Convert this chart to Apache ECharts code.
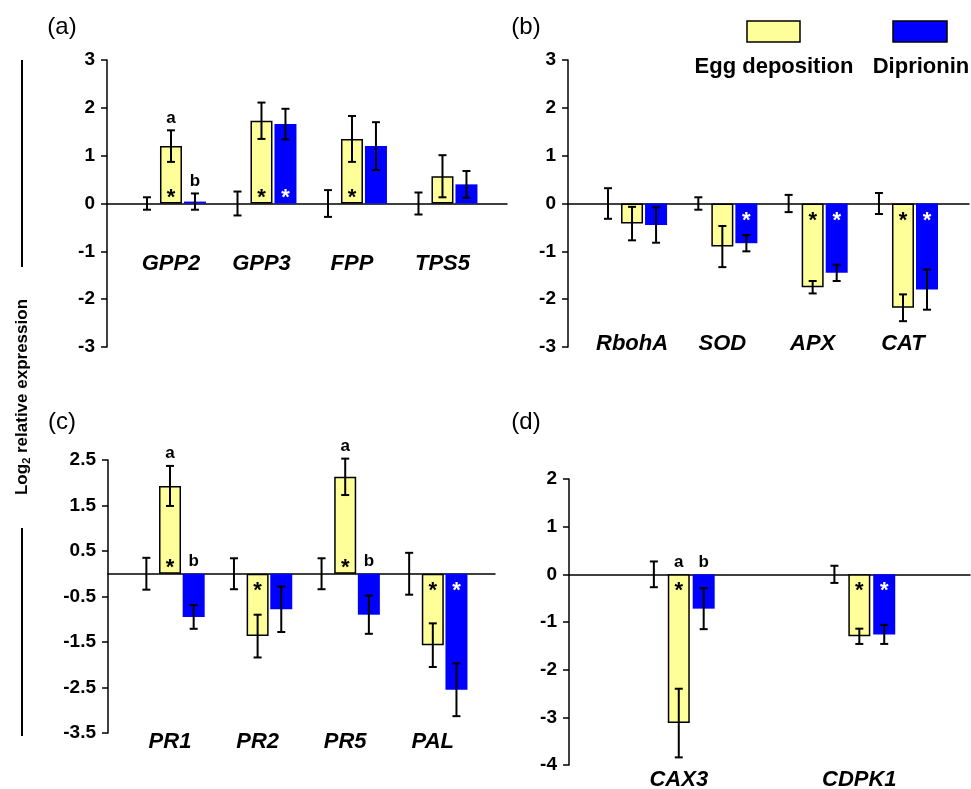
<!DOCTYPE html>
<html>
<head>
<meta charset="utf-8">
<script src="https://cdn.jsdelivr.net/npm/echarts@6/dist/echarts.min.js"></script>
<style>
html,body{margin:0;padding:0;background:#fff;}
#chart{width:971px;height:789px;}
</style>
</head>
<body>
<div id="chart"></div>
<script>
// ---------- DATA ----------
const seriesNames = ['Egg deposition', 'Diprionin'];

// Panel (a)
const aCategories = ['GPP2', 'GPP3', 'FPP', 'TPS5'];
const aControl = [0, 0, 0, 0];
const aControlErr = [0.13, 0.25, 0.28, 0.23];
const aEgg = [1.2, 1.73, 1.35, 0.57];
const aEggErr = [0.33, 0.38, 0.48, 0.44];
const aDip = [0.04, 1.66, 1.2, 0.4];
const aDipErr = [0.17, 0.32, 0.5, 0.28];
const aEggStar = [1, 1, 1, 0];
const aDipStar = [0, 1, 0, 0];
const aEggLetter = ['a', '', '', ''];
const aDipLetter = ['b', '', '', ''];

// Panel (b)
const bCategories = ['RbohA', 'SOD', 'APX', 'CAT'];
const bControl = [0, 0, 0, 0];
const bControlErr = [0.32, 0.13, 0.18, 0.22];
const bEgg = [-0.42, -0.9, -1.75, -2.18];
const bEggErr = [0.35, 0.43, 0.13, 0.28];
const bDip = [-0.45, -0.83, -1.45, -1.8];
const bDipErr = [0.37, 0.17, 0.17, 0.42];
const bEggStar = [0, 0, 1, 1];
const bDipStar = [0, 1, 1, 1];
const bEggLetter = ['', '', '', ''];
const bDipLetter = ['', '', '', ''];

// Panel (c)
const cCategories = ['PR1', 'PR2', 'PR5', 'PAL'];
const cControl = [0, 0, 0, 0];
const cControlErr = [0.35, 0.34, 0.34, 0.46];
const cEgg = [1.93, -1.37, 2.13, -1.57];
const cEggErr = [0.44, 0.47, 0.4, 0.48];
const cDip = [-0.95, -0.78, -0.9, -2.55];
const cDipErr = [0.26, 0.5, 0.42, 0.58];
const cEggStar = [1, 1, 1, 1];
const cDipStar = [0, 0, 0, 1];
const cEggLetter = ['a', '', 'a', ''];
const cDipLetter = ['b', '', 'b', ''];

// Panel (d)
const dCategories = ['CAX3', 'CDPK1'];
const dControl = [0, 0];
const dControlErr = [0.27, 0.18];
const dEgg = [-3.12, -1.3];
const dEggErr = [0.72, 0.16];
const dDip = [-0.72, -1.26];
const dDipErr = [0.43, 0.2];
const dEggStar = [1, 1];
const dDipStar = [0, 1];
const dEggLetter = ['a', ''];
const dDipLetter = ['b', ''];

// Y axis ranges (tick labels)
const aYAxis = { min: -3, max: 3, interval: 1 };
const bYAxis = { min: -3, max: 3, interval: 1 };
const cYAxis = { min: -3.5, max: 2.5, interval: 1 };
const dYAxis = { min: -4, max: 2, interval: 1 };

// ---------- STYLE / LAYOUT ----------
const FONT = '"Liberation Sans", Arial, Helvetica, sans-serif';
const YELLOW = '#FFFF99';
const BLUE = '#0000FF';

const panels = [
  { id: 'a', cats: aCategories, ctl: aControl, ctlErr: aControlErr, egg: aEgg, eggErr: aEggErr, dip: aDip, dipErr: aDipErr,
    eggStar: aEggStar, dipStar: aDipStar, eggLetter: aEggLetter, dipLetter: aDipLetter, y: aYAxis,
    left: 107, right: 507, top: 60, bottom: 347, xMin: -0.707, xMax: 3.713, off: 0.265, labelY: -1.26 },
  { id: 'b', cats: bCategories, ctl: bControl, ctlErr: bControlErr, egg: bEgg, eggErr: bEggErr, dip: bDip, dipErr: bDipErr,
    eggStar: bEggStar, dipStar: bDipStar, eggLetter: bEggLetter, dipLetter: bDipLetter, y: bYAxis,
    left: 568, right: 969, top: 60, bottom: 347, xMin: -0.709, xMax: 3.731, off: 0.266, labelY: -2.93 },
  { id: 'c', cats: cCategories, ctl: cControl, ctlErr: cControlErr, egg: cEgg, eggErr: cEggErr, dip: cDip, dipErr: cDipErr,
    eggStar: cEggStar, dipStar: cDipStar, eggLetter: cEggLetter, dipLetter: cDipLetter, y: cYAxis,
    left: 108, right: 495, top: 460, bottom: 733, xMin: -0.708, xMax: 3.71, off: 0.27, labelY: -3.69 },
  { id: 'd', cats: dCategories, ctl: dControl, ctlErr: dControlErr, egg: dEgg, eggErr: dEggErr, dip: dDip, dipErr: dDipErr,
    eggStar: dEggStar, dipStar: dDipStar, eggLetter: dEggLetter, dipLetter: dDipLetter, y: dYAxis,
    left: 569, right: 970, top: 479, bottom: 765, xMin: -0.608, xMax: 1.613, off: 0.138, labelY: -4.31 }
];

const grids = [], xAxes = [], yAxes = [], series = [];

function errRender(params, api) {
  const x = api.value(0), lo = api.value(1), hi = api.value(2);
  const p1 = api.coord([x, hi]), p2 = api.coord([x, lo]);
  const w = 4;
  const st = { stroke: '#000', lineWidth: 2 };
  return { type: 'group', children: [
    { type: 'line', shape: { x1: p1[0], y1: p1[1], x2: p2[0], y2: p2[1] }, style: st },
    { type: 'line', shape: { x1: p1[0] - w, y1: p1[1], x2: p1[0] + w, y2: p1[1] }, style: st },
    { type: 'line', shape: { x1: p2[0] - w, y1: p2[1], x2: p2[0] + w, y2: p2[1] }, style: st }
  ]};
}

// text annotation series: items = [{x, y, text, color, dy, font...}]
function textSeries(gi, items, fontSize, fontStyle, vAlign) {
  return {
    type: 'custom', xAxisIndex: gi, yAxisIndex: gi, silent: true, clip: false, z: 10,
    encode: { x: 0, y: 1 },
    data: items.map(it => [it.x, it.y]),
    renderItem: function (params, api) {
      const it = items[params.dataIndex];
      const pt = api.coord([api.value(0), api.value(1)]);
      return {
        type: 'text', x: pt[0], y: pt[1] + (it.dy || 0),
        style: { text: it.text, fill: it.color || '#000', fontFamily: FONT, fontWeight: 'bold',
          fontStyle: fontStyle || 'normal', fontSize: fontSize, align: 'center', verticalAlign: vAlign || 'middle' }
      };
    }
  };
}

panels.forEach((p, gi) => {
  grids.push({ left: p.left, top: p.top, width: p.right - p.left, height: p.bottom - p.top, containLabel: false });
  xAxes.push({
    gridIndex: gi, type: 'value', min: p.xMin, max: p.xMax,
    axisLine: { show: true, onZero: true, lineStyle: { color: '#000', width: 1.5 } },
    axisTick: { show: false }, axisLabel: { show: false }, splitLine: { show: false }
  });
  yAxes.push({
    gridIndex: gi, type: 'value', min: p.y.min, max: p.y.max, interval: p.y.interval,
    axisLine: { show: true, onZero: false, lineStyle: { color: '#000', width: 1.5 } },
    axisTick: { show: true, inside: false, length: 6, lineStyle: { color: '#000', width: 1.5 } },
    axisLabel: { show: true, color: '#000', fontFamily: FONT, fontWeight: 'bold', fontSize: 19, margin: 12,
      formatter: v => String(Math.round(v * 10) / 10) },
    splitLine: { show: false }
  });

  const n = p.cats.length;
  const idx = [...Array(n).keys()];
  // bars
  series.push({
    name: seriesNames[0], type: 'bar', xAxisIndex: gi, yAxisIndex: gi, barWidth: 22, barGap: '-100%',
    itemStyle: { color: YELLOW, borderColor: '#000', borderWidth: 1.5 },
    data: idx.map(i => [i, p.egg[i]]), z: 2
  });
  series.push({
    name: seriesNames[1], type: 'bar', xAxisIndex: gi, yAxisIndex: gi, barWidth: 22, barGap: '-100%',
    itemStyle: { color: BLUE, borderWidth: 0 },
    data: idx.map(i => [i + p.off, p.dip[i]]), z: 2
  });
  // error bars
  const errData = [];
  idx.forEach(i => {
    errData.push([i - p.off, p.ctl[i] - p.ctlErr[i], p.ctl[i] + p.ctlErr[i]]);
    errData.push([i, p.egg[i] - p.eggErr[i], p.egg[i] + p.eggErr[i]]);
    errData.push([i + p.off, p.dip[i] - p.dipErr[i], p.dip[i] + p.dipErr[i]]);
  });
  series.push({
    type: 'custom', xAxisIndex: gi, yAxisIndex: gi, renderItem: errRender,
    encode: { x: 0, y: [1, 2] }, data: errData, z: 5, silent: true, clip: false
  });
  // significance stars
  const stars = [];
  idx.forEach(i => {
    if (p.eggStar[i]) stars.push({ x: i, y: 0, text: '*', color: '#000', dy: p.egg[i] >= 0 ? -6 : 17 });
    if (p.dipStar[i]) stars.push({ x: i + p.off, y: 0, text: '*', color: '#fff', dy: p.dip[i] >= 0 ? -6 : 17 });
  });
  series.push(textSeries(gi, stars, 22));
  // letters
  const letters = [];
  idx.forEach(i => {
    if (p.eggLetter[i]) letters.push({ x: i, y: Math.max(p.egg[i] + p.eggErr[i], 0), text: p.eggLetter[i], dy: -4 });
    if (p.dipLetter[i]) letters.push({ x: i + p.off, y: Math.max(p.dip[i] + p.dipErr[i], 0), text: p.dipLetter[i], dy: -4 });
  });
  series.push(textSeries(gi, letters, 17, 'normal', 'bottom'));
  // category labels
  series.push(textSeries(gi, idx.map(i => ({ x: i, y: p.labelY, text: p.cats[i] })), 22, 'italic'));
});

const txt = { fontFamily: FONT, fill: '#000' };
const graphic = [
  { type: 'text', x: 62, y: 27, style: Object.assign({ text: '(a)', fontSize: 24, align: 'center', verticalAlign: 'middle' }, txt) },
  { type: 'text', x: 526, y: 27, style: Object.assign({ text: '(b)', fontSize: 24, align: 'center', verticalAlign: 'middle' }, txt) },
  { type: 'text', x: 62, y: 422, style: Object.assign({ text: '(c)', fontSize: 24, align: 'center', verticalAlign: 'middle' }, txt) },
  { type: 'text', x: 526, y: 422, style: Object.assign({ text: '(d)', fontSize: 24, align: 'center', verticalAlign: 'middle' }, txt) },
  // legend
  { type: 'rect', shape: { x: 747, y: 21, width: 53, height: 21 }, style: { fill: YELLOW, stroke: '#000', lineWidth: 1.5 } },
  { type: 'rect', shape: { x: 893, y: 21, width: 54, height: 21 }, style: { fill: BLUE, stroke: '#000', lineWidth: 1.5 } },
  { type: 'text', x: 774, y: 67, style: Object.assign({ text: seriesNames[0], fontSize: 22, fontWeight: 'bold', align: 'center', verticalAlign: 'middle' }, txt) },
  { type: 'text', x: 921, y: 67, style: Object.assign({ text: seriesNames[1], fontSize: 22, fontWeight: 'bold', align: 'center', verticalAlign: 'middle' }, txt) },
  // y title
  { type: 'line', shape: { x1: 22, y1: 60, x2: 22, y2: 267 }, style: { stroke: '#000', lineWidth: 2 } },
  { type: 'line', shape: { x1: 22, y1: 528, x2: 22, y2: 736 }, style: { stroke: '#000', lineWidth: 2 } },
  { type: 'text', x: 22, y: 397, rotation: Math.PI / 2,
    style: { text: '{m|Log}{s|2}{m| relative expression}', align: 'center', verticalAlign: 'middle',
      rich: {
        m: { fontFamily: FONT, fontWeight: 'bold', fontSize: 17, fill: '#000', lineHeight: 22 },
        s: { fontFamily: FONT, fontWeight: 'bold', fontSize: 11, fill: '#000', lineHeight: 22, padding: [9, 0, 0, 0] }
      } } }
];

const chart = echarts.init(document.getElementById('chart'), null, { renderer: 'canvas' });
chart.setOption({
  animation: false,
  backgroundColor: '#fff',
  grid: grids, xAxis: xAxes, yAxis: yAxes, series: series, graphic: graphic
});
</script>
</body>
</html>
